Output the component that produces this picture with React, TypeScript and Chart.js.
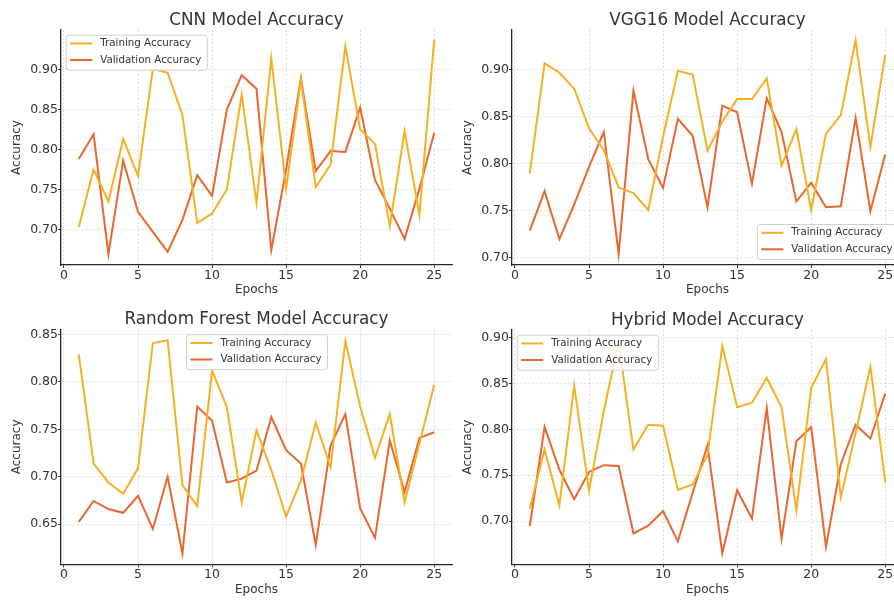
import React, { useEffect, useRef } from "react";
import { Chart, registerables } from "chart.js";

Chart.register(...registerables);

// ---------------- data ----------------
const epochs = [1, 2, 3, 4, 5, 6, 7, 8, 9, 10, 11, 12, 13, 14, 15, 16, 17, 18, 19, 20, 21, 22, 23, 24, 25];
const xTicks = [0, 5, 10, 15, 20, 25];
const yTicksHigh = [0.7, 0.75, 0.8, 0.85, 0.9];
const yTicksLow = [0.65, 0.7, 0.75, 0.8, 0.85];
const seriesLabels = ["Training Accuracy", "Validation Accuracy"];

const cnnTrain = [0.703, 0.775, 0.735, 0.813, 0.767, 0.901, 0.896, 0.843, 0.708, 0.72, 0.75, 0.869, 0.733, 0.914, 0.751, 0.887, 0.753, 0.781, 0.929, 0.825, 0.807, 0.704, 0.823, 0.718, 0.9375];
const cnnVal = [0.788, 0.819, 0.669, 0.786, 0.722, 0.697, 0.672, 0.712, 0.768, 0.742, 0.85, 0.893, 0.876, 0.674, 0.775, 0.889, 0.773, 0.798, 0.797, 0.8525, 0.762, 0.726, 0.688, 0.751, 0.821];

const vggTrain = [0.79, 0.907, 0.897, 0.88, 0.838, 0.815, 0.775, 0.769, 0.751, 0.829, 0.899, 0.895, 0.814, 0.845, 0.869, 0.869, 0.891, 0.798, 0.837, 0.751, 0.832, 0.852, 0.9315, 0.818, 0.916];
const vggVal = [0.729, 0.771, 0.72, 0.757, 0.797, 0.834, 0.704, 0.878, 0.805, 0.7745, 0.848, 0.83, 0.754, 0.862, 0.855, 0.779, 0.87, 0.834, 0.76, 0.78, 0.754, 0.755, 0.849, 0.75, 0.81];

const rfTrain = [0.829, 0.714, 0.694, 0.682, 0.709, 0.841, 0.844, 0.691, 0.669, 0.812, 0.7735, 0.673, 0.749, 0.707, 0.658, 0.696, 0.757, 0.71, 0.843, 0.774, 0.72, 0.766, 0.673, 0.735, 0.797];
const rfVal = [0.6525, 0.6745, 0.666, 0.662, 0.68, 0.645, 0.7, 0.619, 0.774, 0.759, 0.694, 0.698, 0.7065, 0.763, 0.728, 0.714, 0.628, 0.733, 0.766, 0.6665, 0.6356, 0.7384, 0.684, 0.741, 0.747];

const hybTrain = [0.7134, 0.778, 0.717, 0.8475, 0.733, 0.82, 0.895, 0.778, 0.805, 0.804, 0.734, 0.74, 0.772, 0.891, 0.824, 0.829, 0.856, 0.824, 0.712, 0.845, 0.8765, 0.726, 0.796, 0.8685, 0.7424];
const hybVal = [0.6946, 0.8025, 0.756, 0.724, 0.7536, 0.761, 0.76, 0.6866, 0.695, 0.711, 0.678, 0.731, 0.7826, 0.665, 0.7337, 0.703, 0.823, 0.681, 0.787, 0.8025, 0.672, 0.762, 0.805, 0.79, 0.839];

// ---------------- style ----------------
const FONT = '"DejaVu Sans", sans-serif';
const TEXT = "#333333";
const TRAIN_COLOR = "#F7AF22";
const VAL_COLOR = "#E9662E";

type Spec = {
  title: string;
  train: number[];
  val: number[];
  yMin: number;
  yMax: number;
  yTicks: number[];
  legend: "upper left" | "upper center" | "lower right";
  left: number;
  top: number;
  width: number;
  height: number;
  padTop: number;
  xAxisH: number;
  xTitlePad: number;
};

const panels: Spec[] = [
  { title: "CNN Model Accuracy", train: cnnTrain, val: cnnVal, yMin: 0.6555, yMax: 0.9495, yTicks: yTicksHigh, legend: "upper left", left: 0, top: 0, width: 460, height: 300, padTop: 30, xAxisH: 35, xTitlePad: 2.6 },
  { title: "VGG16 Model Accuracy", train: vggTrain, val: vggVal, yMin: 0.6925, yMax: 0.9425, yTicks: yTicksHigh, legend: "lower right", left: 451, top: 0, width: 460, height: 300, padTop: 30, xAxisH: 35, xTitlePad: 2.6 },
  { title: "Random Forest Model Accuracy", train: rfTrain, val: rfVal, yMin: 0.6077, yMax: 0.8553, yTicks: yTicksLow, legend: "upper center", left: 0, top: 300, width: 460, height: 301, padTop: 29.5, xAxisH: 36.7, xTitlePad: 3.6 },
  { title: "Hybrid Model Accuracy", train: hybTrain, val: hybVal, yMin: 0.653, yMax: 0.9082, yTicks: yTicksHigh, legend: "upper left", left: 451, top: 300, width: 460, height: 301, padTop: 30, xAxisH: 36.7, xTitlePad: 3.6 },
];

function Panel({ spec }: { spec: Spec }) {
  const ref = useRef<HTMLCanvasElement>(null);

  useEffect(() => {
    if (!ref.current) return;

    const decor = {
      id: "panelDecor",
      afterDatasetsDraw(chart: any) {
        const ctx = chart.ctx as CanvasRenderingContext2D;
        const ca = chart.chartArea;
        ctx.save();
        // title
        ctx.font = `16.8px ${FONT}`;
        ctx.fillStyle = TEXT;
        ctx.textAlign = "center";
        ctx.textBaseline = "alphabetic";
        ctx.fillText(spec.title, (ca.left + ca.right) / 2, ca.top - 5.5);

        // legend
        const fs = 10.3;
        ctx.font = `${fs}px ${FONT}`;
        const tw = Math.max(...seriesLabels.map((l) => ctx.measureText(l).width));
        const bw = 34.5 + tw + 5.5;
        const bh = 35;
        let bx = ca.left + 4.7;
        let by = ca.top + 4.7;
        if (spec.legend === "upper center") {
          bx = (ca.left + ca.right) / 2 - bw / 2;
        } else if (spec.legend === "lower right") {
          bx = ca.right - 5 - bw;
          by = ca.bottom - 6 - bh;
        }
        ctx.beginPath();
        (ctx as any).roundRect(bx + 0.5, by + 0.5, bw, bh, 3);
        ctx.fillStyle = "rgba(255,255,255,0.85)";
        ctx.fill();
        ctx.lineWidth = 1;
        ctx.strokeStyle = "#d0d0d0";
        ctx.stroke();
        const colors = [TRAIN_COLOR, VAL_COLOR];
        seriesLabels.forEach((label, i) => {
          const ry = by + 8.8 + i * 16.5;
          ctx.beginPath();
          ctx.moveTo(bx + 4.5, ry);
          ctx.lineTo(bx + 26.5, ry);
          ctx.lineWidth = 2;
          ctx.strokeStyle = colors[i];
          ctx.stroke();
          ctx.fillStyle = TEXT;
          ctx.textAlign = "left";
          ctx.textBaseline = "middle";
          ctx.fillText(label, bx + 34.5, ry);
        });
        ctx.restore();
      },
    };

    const chart = new Chart(ref.current, {
      type: "line",
      data: {
        datasets: [
          {
            label: seriesLabels[0],
            data: epochs.map((e, i) => ({ x: e, y: spec.train[i] })),
            borderColor: TRAIN_COLOR,
            backgroundColor: TRAIN_COLOR,
            borderWidth: 2,
            pointRadius: 0,
            tension: 0,
            fill: false,
          },
          {
            label: seriesLabels[1],
            data: epochs.map((e, i) => ({ x: e, y: spec.val[i] })),
            borderColor: VAL_COLOR,
            backgroundColor: VAL_COLOR,
            borderWidth: 2,
            pointRadius: 0,
            tension: 0,
            fill: false,
          },
        ],
      },
      options: {
        responsive: false,
        animation: false,
        devicePixelRatio: 1,
        events: [],
        layout: { padding: { left: 0, right: 8, top: spec.padTop, bottom: 0 } },
        plugins: {
          legend: { display: false },
          title: { display: false },
          tooltip: { enabled: false },
        },
        scales: {
          x: {
            type: "linear",
            min: -0.2,
            max: 26.2,
            afterBuildTicks: (s: any) => {
              s.ticks = xTicks.map((v) => ({ value: v }));
            },
            afterFit: (s: any) => {
              s.height = spec.xAxisH;
            },
            ticks: {
              font: { family: FONT, size: 12.5 },
              color: TEXT,
              padding: 0,
              maxRotation: 0,
              autoSkip: false,
              callback: (v: any) => String(v),
            },
            grid: {
              color: "rgba(180,180,180,0.55)",
              lineWidth: 0.8,
              tickColor: TEXT,
              tickLength: 3,
              tickWidth: 1,
            },
            border: { display: true, color: "#262626", width: 1.3, dash: [2, 2] },
            title: {
              display: true,
              text: "Epochs",
              color: TEXT,
              font: { family: FONT, size: 12 },
              padding: { top: 0, bottom: spec.xTitlePad },
            },
          },
          y: {
            type: "linear",
            min: spec.yMin,
            max: spec.yMax,
            afterBuildTicks: (s: any) => {
              s.ticks = spec.yTicks.map((v) => ({ value: v }));
            },
            afterFit: (s: any) => {
              s.width = 61;
            },
            ticks: {
              font: { family: FONT, size: 12.5 },
              color: TEXT,
              padding: 0,
              autoSkip: false,
              callback: (v: any) => Number(v).toFixed(2),
            },
            grid: {
              color: "rgba(180,180,180,0.55)",
              lineWidth: 0.8,
              tickColor: TEXT,
              tickLength: 3,
              tickWidth: 1,
            },
            border: { display: true, color: "#262626", width: 1.3, dash: [2, 2] },
            title: {
              display: true,
              text: "Accuracy",
              color: TEXT,
              font: { family: FONT, size: 12 },
              padding: { top: 9.7, bottom: 0 },
            },
          },
        },
      } as any,
      plugins: [decor as any],
    });

    return () => chart.destroy();
  }, [spec]);

  return (
    <canvas
      ref={ref}
      width={spec.width}
      height={spec.height}
      style={{ position: "absolute", left: spec.left, top: spec.top, width: spec.width, height: spec.height }}
    />
  );
}

export default function App() {
  return (
    <div
      style={{
        position: "absolute",
        left: 0,
        top: 0,
        width: 894,
        height: 601,
        overflow: "hidden",
        background: "#ffffff",
      }}
    >
      {panels.map((p) => (
        <Panel key={p.title} spec={p} />
      ))}
    </div>
  );
}
